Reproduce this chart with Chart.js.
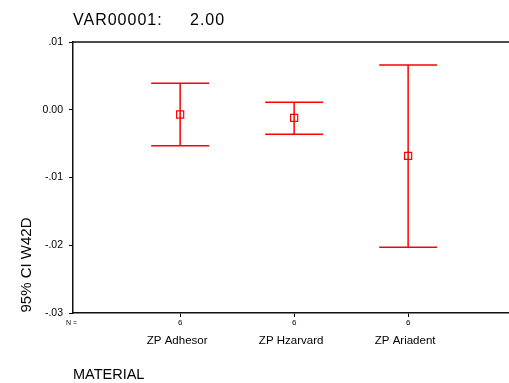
<!DOCTYPE html>
<html>
<head>
<meta charset="utf-8">
<script src="https://cdn.jsdelivr.net/npm/chart.js@4/dist/chart.umd.min.js"></script>
<style>
html,body{margin:0;padding:0;background:#fff;}
#wrap{position:relative;width:509px;height:383px;}
</style>
</head>
<body>
<div id="wrap"><canvas id="c" width="509" height="383"></canvas></div>
<script>
// ---- data ----
const categories = ['ZP Adhesor', 'ZP Hzarvard', 'ZP Ariadent'];
const nValues = [6, 6, 6];
const means = [-0.0007, -0.0012, -0.0068];
const upperCI = [0.0039, 0.0011, 0.0066];
const lowerCI = [-0.0053, -0.0036, -0.0203];
const yTickValues = [0.01, 0, -0.01, -0.02, -0.03];
const yTickLabels = ['.01', '0.00', '-.01', '-.02', '-.03'];
const titleLabel = 'VAR00001:';
const titleValue = '2.00';
const yTitle = '95% CI W42D';
const xTitle = 'MATERIAL';

const FONT = '"Liberation Sans", Arial, sans-serif';
const RED = 'rgb(255,0,0)';

const positions = categories.map((c, i) => i + 1);

const decorPlugin = {
  id: 'decor',
  afterDatasetsDraw(chart) {
    const ctx = chart.ctx;
    const xs = chart.scales.x, ys = chart.scales.y;
    const ca = chart.chartArea;
    ctx.save();
    // top frame line
    ctx.strokeStyle = '#111';
    ctx.lineWidth = 1.5;
    ctx.beginPath();
    ctx.moveTo(ca.left, ca.top);
    ctx.lineTo(ca.right, ca.top);
    ctx.stroke();
    // error bars
    ctx.strokeStyle = RED;
    ctx.lineWidth = 1.5;
    const capHalf = 0.254;
    positions.forEach((p, i) => {
      const x = xs.getPixelForValue(p);
      const yu = ys.getPixelForValue(upperCI[i]);
      const yl = ys.getPixelForValue(lowerCI[i]);
      const xl = xs.getPixelForValue(p - capHalf);
      const xr = xs.getPixelForValue(p + capHalf);
      ctx.beginPath();
      ctx.moveTo(x, yu); ctx.lineTo(x, yl);
      ctx.moveTo(xl, yu); ctx.lineTo(xr, yu);
      ctx.moveTo(xl, yl); ctx.lineTo(xr, yl);
      ctx.stroke();
    });
    ctx.restore();
  },
  afterDraw(chart) {
    const ctx = chart.ctx;
    const xs = chart.scales.x;
    ctx.save();
    ctx.fillStyle = '#000';
    // title
    ctx.font = '16px ' + FONT;
    ctx.textBaseline = 'middle';
    ctx.textAlign = 'left';
    try { ctx.letterSpacing = '1px'; } catch (e) {}
    ctx.fillText(titleLabel, 73, 20.5);
    ctx.fillText(titleValue, 190, 20.5);
    try { ctx.letterSpacing = '0px'; } catch (e) {}
    // N =
    ctx.font = '7px ' + FONT;
    ctx.fillText('N =', 66, 323);
    // category labels
    ctx.font = '11.5px ' + FONT;
    ctx.textAlign = 'center';
    positions.forEach((p, i) => {
      ctx.fillText(categories[i], xs.getPixelForValue(p) - 3, 341);
    });
    // x title
    ctx.font = '14.5px ' + FONT;
    ctx.textAlign = 'left';
    ctx.fillText(xTitle, 73, 375);
    // y title
    ctx.translate(27, 265);
    ctx.rotate(-Math.PI / 2);
    ctx.textAlign = 'center';
    ctx.font = '15px ' + FONT;
    ctx.fillText(yTitle, 0, 0);
    ctx.restore();
  }
};

new Chart(document.getElementById('c'), {
  type: 'scatter',
  data: {
    datasets: [{
      data: positions.map((p, i) => ({ x: p, y: means[i] })),
      pointStyle: 'rect',
      pointRadius: 5,
      pointHoverRadius: 5,
      borderColor: RED,
      backgroundColor: 'rgba(0,0,0,0)',
      borderWidth: 1.2
    }]
  },
  options: {
    responsive: false,
    animation: false,
    devicePixelRatio: 1,
    layout: { autoPadding: false, padding: { top: 42, right: 0, left: 0, bottom: 0 } },
    plugins: { legend: { display: false }, tooltip: { enabled: false } },
    scales: {
      x: {
        type: 'linear',
        min: 0.06,
        max: 3.885,
        afterBuildTicks(scale) { scale.ticks = positions.map(v => ({ value: v })); },
        afterFit(scale) { scale.height = 70; },
        grid: { display: true, drawOnChartArea: false, drawTicks: true, tickLength: 4, color: '#000', lineWidth: 1 },
        border: { display: true, color: '#111', width: 1.5 },
        ticks: {
          padding: 1,
          color: '#000',
          font: { family: FONT, size: 8 },
          maxRotation: 0,
          autoSkip: false,
          callback(v) { const i = positions.indexOf(v); return i >= 0 ? String(nValues[i]) : ''; }
        }
      },
      y: {
        type: 'linear',
        min: -0.03,
        max: 0.01,
        afterBuildTicks(scale) { scale.ticks = yTickValues.map(v => ({ value: v })); },
        afterFit(scale) { scale.width = 73; },
        grid: { display: true, drawOnChartArea: false, drawTicks: true, tickLength: 4, color: '#000', lineWidth: 1 },
        border: { display: true, color: '#111', width: 1.5 },
        ticks: {
          padding: 6,
          color: '#000',
          font: { family: FONT, size: 10.5 },
          autoSkip: false,
          callback(v) { const i = yTickValues.indexOf(v); return i >= 0 ? yTickLabels[i] : ''; }
        }
      }
    }
  },
  plugins: [decorPlugin]
});
</script>
</body>
</html>
